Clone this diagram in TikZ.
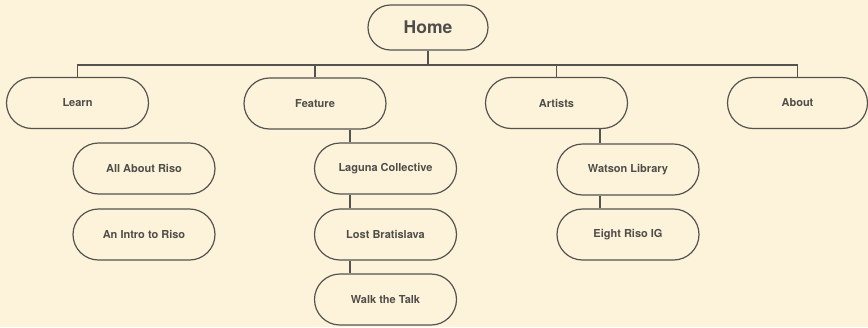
\documentclass[tikz,border=0pt]{standalone}
\usepackage{fontspec}
\setmainfont{TeX Gyre Heros}
\usetikzlibrary{calc}
\definecolor{bg}{HTML}{FDF3DA}
\definecolor{ink}{HTML}{555350}
\definecolor{txt}{HTML}{4F4D4A}
\begin{document}
\begin{tikzpicture}[x=1pt,y=-1pt,
  pill/.style={draw=ink,line width=1.2pt,fill=bg,rounded corners=25.5pt,
    minimum width=142pt,minimum height=51pt,inner sep=0pt,
    text=txt,font=\fontsize{11}{13}\selectfont\bfseries},
  homebox/.style={pill,rounded corners=22.5pt,minimum width=120pt,minimum height=45pt,
    font=\fontsize{17.5}{20}\selectfont\bfseries},
  link/.style={draw=ink,line width=1.2pt}]
\fill[bg] (0,0) rectangle (868,327);
\useasboundingbox (0,0) rectangle (868,327);
\node[homebox] (home) at (428,27.5) {Home};
\node[pill] (learn) at (77.5,103) {Learn};
\node[pill] (feature) at (315,103.5) {Feature};
\node[pill] (artists) at (556.5,103) {Artists};
\node[pill,minimum width=140pt] (about) at (797.5,103) {About};
\node[pill] (allabout) at (144,168.5) {All About Riso};
\node[pill] (intro) at (144,234.5) {An Intro to Riso};
\node[pill] (laguna) at (385.5,168.5) {Laguna Collective};
\node[pill] (lost) at (385.5,234.5) {Lost Bratislava};
\node[pill] (walk) at (385.5,299.5) {Walk the Talk};
\node[pill] (watson) at (628,169.5) {Watson Library};
\node[pill] (eight) at (628,234.5) {Eight Riso IG};
\coordinate (bus) at (428,65);
\draw[link] (home.south) -- (bus);
\draw[link] (learn.north) |- (bus) -| (about.north);
\draw[link] (feature.north) -- (feature.north |- bus);
\draw[link] (artists.north) -- (artists.north |- bus);
\draw[link] ([xshift=-35.5pt]laguna.north |- feature.south) -- ([xshift=-35.5pt]laguna.north);
\draw[link] ([xshift=-35.5pt]laguna.south) -- ([xshift=-35.5pt]lost.north);
\draw[link] ([xshift=-35.5pt]lost.south) -- ([xshift=-35.5pt]walk.north);
\draw[link] ([xshift=-28pt]watson.north |- artists.south) -- ([xshift=-28pt]watson.north);
\draw[link] ([xshift=-28pt]watson.south) -- ([xshift=-28pt]eight.north);
\end{tikzpicture}
\end{document}
